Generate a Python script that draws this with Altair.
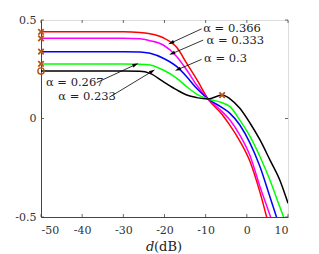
import altair as alt
import pandas as pd
import numpy as np

W, H = 247, 197
FONT = "DejaVu Serif"

d = [-50, -40, -30, -26, -23.5, -20.3, -17, -14.6, -12.2, -9.4, -6, -4.1, -1.7, 0.8, 3.2, 5.6, 8, 10]
red = [0.44, 0.44, 0.44, 0.437, 0.43, 0.41, 0.36, 0.28, 0.2, 0.099, 0.02, -0.035, -0.115, -0.22, -0.375, -0.56, -0.72, -0.84]
magenta = [0.407, 0.407, 0.407, 0.405, 0.395, 0.373, 0.314, 0.246, 0.17, 0.099, 0.035, -0.008, -0.084, -0.19, -0.346, -0.49, -0.65, -0.78]
blue = [0.339, 0.339, 0.339, 0.338, 0.331, 0.306, 0.263, 0.212, 0.153, 0.099, 0.055, 0.026, -0.033, -0.126, -0.245, -0.397, -0.55, -0.67]
green = [0.277, 0.277, 0.277, 0.276, 0.272, 0.246, 0.204, 0.161, 0.124, 0.099, 0.08, 0.06, -0.008, -0.092, -0.194, -0.312, -0.448, -0.56]
black = [0.241, 0.241, 0.241, 0.24, 0.229, 0.187, 0.145, 0.119, 0.106, 0.099, 0.119, 0.10, 0.052, -0.024, -0.109, -0.21, -0.312, -0.43]

series = {"red": red, "magenta": magenta, "blue": blue, "green": green, "black": black}
colors = {"red": "#ff0000", "magenta": "#ff00ff", "blue": "#0000ff", "green": "#00ff00", "black": "#000000"}

rows = []
for name, vals in series.items():
    for x, y in zip(d, vals):
        rows.append({"d": x, "v": y, "s": name})
df = pd.DataFrame(rows)

# markers
mark_x_d = [-50, -50, -50, -50, -6]
mark_x_v = [0.44, 0.407, 0.339, 0.277, 0.119]
mark_o_d = [-50]
mark_o_v = [0.241]

# annotations
ann_text = ["α = 0.366", "α = 0.333", "α = 0.3", "α = 0.267", "α = 0.233"]
ann_tail_d = [-11.0, -10.6, -11.0, -36.5, -33.4]
ann_tail_v = [0.455, 0.398, 0.30, 0.182, 0.108]
ann_head_d = [-18.25, -18.0, -16.6, -27.2, -23.1]
ann_head_v = [0.385, 0.331, 0.25, 0.272, 0.238]
ann_text_d = [-10.6, -9.8, -10.4, -48.8, -45.8]
ann_text_v = [0.456, 0.391, 0.3, 0.182, 0.108]

xticks = [-50, -40, -30, -20, -10, 0, 10]
yticks = [-0.5, 0, 0.5]

xs = alt.Scale(domain=[-50, 10], nice=False)
ys = alt.Scale(domain=[-0.5, 0.5], nice=False)

lab = "replace(format(datum.value, '~g'), '\u2212', '-')"

lines = alt.Chart(df).mark_line(strokeWidth=1.5, interpolate="monotone", clip=True).encode(
    x=alt.X("d:Q", scale=xs, axis=alt.Axis(values=xticks, tickSize=0, labelPadding=7, grid=False,
                                           labelFont=FONT, labelFontSize=11, labelColor="#333",
                                           domainColor="#444", title=None, labelExpr=lab)),
    y=alt.Y("v:Q", scale=ys, axis=alt.Axis(values=yticks, tickSize=0, labelPadding=5, grid=False,
                                           labelFont=FONT, labelFontSize=11, labelColor="#333",
                                           domainColor="#444", title=None, labelExpr=lab)),
    color=alt.Color("s:N", scale=alt.Scale(domain=list(colors.keys()), range=list(colors.values())), legend=None),
    detail="s:N",
)

mx = alt.Chart(pd.DataFrame({"d": mark_x_d, "v": mark_x_v})).mark_point(
    shape="M-1,-1L1,1M1,-1L-1,1", size=30, filled=False, color="#b5541b", strokeWidth=1.8, opacity=1
).encode(x=alt.X("d:Q", scale=xs), y=alt.Y("v:Q", scale=ys))

mo = alt.Chart(pd.DataFrame({"d": mark_o_d, "v": mark_o_v})).mark_point(
    shape="circle", size=40, filled=False, color="#b5541b", strokeWidth=1.4, opacity=1
).encode(x=alt.X("d:Q", scale=xs), y=alt.Y("v:Q", scale=ys))

pxd = W / 60.0
pyv = H / 1.0
adf = pd.DataFrame({
    "t": ann_text, "d0": ann_tail_d, "v0": ann_tail_v, "d1": ann_head_d, "v1": ann_head_v,
    "td": ann_text_d, "tv": ann_text_v,
})
dx = (adf["d1"] - adf["d0"]) * pxd
dy = -(adf["v1"] - adf["v0"]) * pyv
adf["ang"] = (np.degrees(np.arctan2(dx, -dy)) + 360) % 360

arrow_lines = alt.Chart(adf).mark_rule(color="#000", strokeWidth=0.8).encode(
    x=alt.X("d0:Q", scale=xs), y=alt.Y("v0:Q", scale=ys), x2="d1:Q", y2="v1:Q"
)
heads = alt.Chart(adf).mark_point(shape="M0,-1L0.45,0.6L-0.45,0.6Z", filled=True, size=60, color="#000", opacity=1).encode(
    x=alt.X("d1:Q", scale=xs), y=alt.Y("v1:Q", scale=ys), angle=alt.Angle("ang:Q", scale=None)
)
texts = alt.Chart(adf).mark_text(font=FONT, fontSize=11.5, align="left", baseline="middle", color="#222").encode(
    x=alt.X("td:Q", scale=xs), y=alt.Y("tv:Q", scale=ys), text="t:N"
)

# inward ticks
tick_df_x = pd.DataFrame({"d": xticks})
tick_df_y = pd.DataFrame({"v": yticks})
tb = alt.Chart(tick_df_x).mark_rule(color="#444", strokeWidth=0.8).encode(
    x=alt.X("d:Q", scale=xs), y=alt.value(H), y2=alt.value(H - 3))
tt = alt.Chart(tick_df_x).mark_rule(color="#444", strokeWidth=0.8).encode(
    x=alt.X("d:Q", scale=xs), y=alt.value(0), y2=alt.value(3))
tl = alt.Chart(tick_df_y).mark_rule(color="#444", strokeWidth=0.8).encode(
    y=alt.Y("v:Q", scale=ys), x=alt.value(0), x2=alt.value(3))
tr = alt.Chart(tick_df_y).mark_rule(color="#444", strokeWidth=0.8).encode(
    y=alt.Y("v:Q", scale=ys), x=alt.value(W), x2=alt.value(W - 3))

xt1 = alt.Chart(pd.DataFrame({"a": [0]})).mark_text(font=FONT, fontSize=13, fontStyle="italic", align="left", baseline="middle", color="#222").encode(
    x=alt.value(105), y=alt.value(H + 30), text=alt.value("d"))
xt2 = alt.Chart(pd.DataFrame({"a": [0]})).mark_text(font=FONT, fontSize=13, align="left", baseline="middle", color="#222").encode(
    x=alt.value(113), y=alt.value(H + 30), text=alt.value("(dB)"))

chart = alt.layer(lines, tb, tt, tl, tr, arrow_lines, heads, texts, mx, mo, xt1, xt2).properties(
    width=W, height=H,
    autosize=alt.AutoSizeParams(type="none"),
    padding={"left": 33, "top": 12, "right": 20, "bottom": 40},
).configure_view(stroke="#555", strokeWidth=1).configure(background="white")

chart.save("out.html", embed_options={"renderer": "svg", "actions": False})
